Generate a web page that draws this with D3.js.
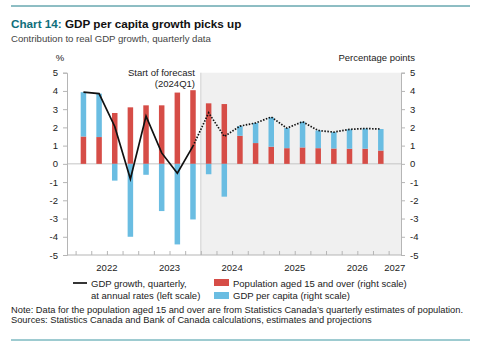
<!DOCTYPE html>
<html lang="en">
<head>
<meta charset="UTF-8">
<title>GDP per capita growth picks up</title>
<script src="https://d3js.org/d3.v7.min.js"></script>
<style>
    body { margin: 0; background: #fff; font-family: "Liberation Sans", Arial, sans-serif; }
    .tick text { font-size: 9.5px; fill: #222; }
</style>
</head>
<body>
<svg width="480" height="352"></svg>
<script>
// quarters 2022Q1 .. 2026Q4
const quarters = ["2022Q1","2022Q2","2022Q3","2022Q4","2023Q1","2023Q2","2023Q3","2023Q4",
    "2024Q1","2024Q2","2024Q3","2024Q4","2025Q1","2025Q2","2025Q3","2025Q4",
    "2026Q1","2026Q2","2026Q3","2026Q4"];
// GDP growth, quarterly at annual rates (left scale)
const gdpGrowth = [3.93, 3.85, 2.05, -0.83, 2.62, 0.6, -0.51, 0.97,
    2.8, 1.5, 2.07, 2.24, 2.57, 1.96, 2.31, 1.83, 1.74, 1.89, 1.94, 1.91];
// Population aged 15 and over (right scale)
const population = [1.5, 1.47, 2.79, 3.1, 3.21, 3.21, 3.91, 4.04,
    3.32, 3.28, 1.54, 1.14, 0.94, 0.86, 0.9, 0.86, 0.84, 0.83, 0.83, 0.73];
// GDP per capita (right scale)
const perCapita = [2.43, 2.38, -0.92, -4.0, -0.6, -2.59, -4.42, -3.05,
    -0.57, -1.8, 0.53, 1.1, 1.61, 1.1, 1.41, 0.97, 0.9, 1.06, 1.11, 1.18];
const yTicks = [-5, -4, -3, -2, -1, 0, 1, 2, 3, 4, 5];
const years = ["2022", "2023", "2024", "2025", "2026", "2027"];
const forecastStart = 8; // index of 2024Q1

const svg = d3.select("svg");
const teal = "#0f6f7c";
const red = "#d64d47";
const blue = "#6abde2";

// top and bottom rules
svg.append("line").attr("x1", 11).attr("x2", 470).attr("y1", 6).attr("y2", 6)
    .attr("stroke", "#1d7c88").attr("stroke-width", 1);
svg.append("line").attr("x1", 11).attr("x2", 470).attr("y1", 340).attr("y2", 340)
    .attr("stroke", "#3c97a2").attr("stroke-width", 1);

// title
const title = svg.append("text").attr("x", 11).attr("y", 27.5)
    .attr("font-size", "11.7px").attr("font-weight", "bold");
title.append("tspan").attr("fill", teal).text("Chart 14: ");
title.append("tspan").attr("fill", "#111").text("GDP per capita growth picks up");
svg.append("text").attr("x", 11).attr("y", 42).attr("font-size", "9.6px").attr("fill", "#444")
    .text("Contribution to real GDP growth, quarterly data");

// plot area
const plotL = 67, plotR = 401, plotT = 72.7, plotB = 255;
const x = d3.scaleLinear().domain([-1.05, 20.29]).range([plotL, plotR]);
const y = d3.scaleLinear().domain([-5, 5]).range([plotB, plotT]);

// forecast shading
svg.append("rect")
    .attr("x", x(forecastStart - 0.5)).attr("y", plotT)
    .attr("width", plotR - x(forecastStart - 0.5)).attr("height", plotB - plotT)
    .attr("fill", "#f0f0f0");
svg.append("line")
    .attr("x1", x(forecastStart - 0.5)).attr("x2", x(forecastStart - 0.5))
    .attr("y1", plotT).attr("y2", plotB).attr("stroke", "#cfcfcf");

// zero line
svg.append("line").attr("x1", plotL).attr("x2", plotR).attr("y1", y(0)).attr("y2", y(0))
    .attr("stroke", "#c4c4c4");

// axes (plain hyphen for negatives, as in the original)
const axisColor = "#b5b5b5";
const fmt = d => String(d);
const gL = svg.append("g").attr("transform", `translate(${plotL},0)`)
    .call(d3.axisLeft(y).tickValues(yTicks).tickSize(4).tickPadding(5).tickFormat(fmt));
const gR = svg.append("g").attr("transform", `translate(${plotR},0)`)
    .call(d3.axisRight(y).tickValues(yTicks).tickSize(4).tickPadding(5).tickFormat(fmt));
const qTicks = d3.range(-0.5, quarters.length + 0.5, 1);
const gB = svg.append("g").attr("transform", `translate(0,${plotB})`)
    .call(d3.axisBottom(x).tickValues(qTicks).tickSize(-4).tickFormat(""));
[gL, gR, gB].forEach(g => {
    g.select(".domain").attr("stroke", axisColor);
    g.selectAll(".tick line").attr("stroke", axisColor);
    g.selectAll(".tick text").attr("font-family", "Liberation Sans, Arial, sans-serif");
});
gB.select(".domain").attr("d", `M${plotL},0H${plotR}`);

// year labels, centred in each year
svg.append("g").selectAll("text").data(years).enter().append("text")
    .attr("x", (d, i) => i < 5 ? x(i * 4 + 1.5) : (x(19.5) + plotR) / 2)
    .attr("y", 271).attr("text-anchor", "middle").attr("font-size", "9.5px").attr("fill", "#222")
    .text(d => d);

// axis units
svg.append("text").attr("x", 60).attr("y", 61).attr("text-anchor", "middle")
    .attr("font-size", "9.5px").attr("fill", "#222").text("%");
svg.append("text").attr("x", 415).attr("y", 61).attr("text-anchor", "end")
    .attr("font-size", "9.5px").attr("fill", "#222").text("Percentage points");

// bars
const bw = 5.5;
const bars = svg.append("g");
quarters.forEach((q, i) => {
    const p = population[i], c = perCapita[i];
    bars.append("rect").attr("x", x(i) - bw / 2).attr("y", y(p)).attr("width", bw)
        .attr("height", y(0) - y(p)).attr("fill", red);
    if (c >= 0) {
        bars.append("rect").attr("x", x(i) - bw / 2).attr("y", y(p + c)).attr("width", bw)
            .attr("height", y(p) - y(p + c)).attr("fill", blue);
    } else {
        bars.append("rect").attr("x", x(i) - bw / 2).attr("y", y(0)).attr("width", bw)
            .attr("height", y(c) - y(0)).attr("fill", blue);
    }
});

// GDP growth line: solid history, dotted forecast
const line = d3.line().x(d => x(d[0])).y(d => y(d[1]));
const pts = gdpGrowth.map((v, i) => [i, v]);
svg.append("path").datum(pts.slice(0, forecastStart))
    .attr("d", line).attr("fill", "none").attr("stroke", "#111").attr("stroke-width", 1.7);
svg.append("path").datum(pts.slice(forecastStart - 1))
    .attr("d", line).attr("fill", "none").attr("stroke", "#111").attr("stroke-width", 1.7)
    .attr("stroke-dasharray", "1.5,1.5");

// forecast note
svg.append("text").attr("x", 195).attr("y", 76).attr("text-anchor", "end")
    .attr("font-size", "9.5px").attr("fill", "#222").text("Start of forecast");
svg.append("text").attr("x", 195).attr("y", 87).attr("text-anchor", "end")
    .attr("font-size", "9.5px").attr("fill", "#222").text("(2024Q1)");

// legend
const lg = svg.append("g").attr("font-size", "9.5px").attr("fill", "#222");
lg.append("line").attr("x1", 73).attr("x2", 87).attr("y1", 283).attr("y2", 283)
    .attr("stroke", "#111").attr("stroke-width", 1.7);
lg.append("text").attr("x", 91).attr("y", 286.5).text("GDP growth, quarterly,");
lg.append("text").attr("x", 91).attr("y", 299).text("at annual rates (left scale)");
lg.append("rect").attr("x", 214).attr("y", 279).attr("width", 15).attr("height", 7).attr("fill", red);
lg.append("text").attr("x", 233).attr("y", 286.5).text("Population aged 15 and over (right scale)");
lg.append("rect").attr("x", 214).attr("y", 292).attr("width", 15).attr("height", 7).attr("fill", blue);
lg.append("text").attr("x", 233).attr("y", 299).text("GDP per capita (right scale)");

// note and sources
svg.append("text").attr("x", 11).attr("y", 312.5).attr("font-size", "9.3px").attr("fill", "#222")
    .text("Note: Data for the population aged 15 and over are from Statistics Canada\u2019s quarterly estimates of population.");
svg.append("text").attr("x", 11).attr("y", 322.5).attr("font-size", "9.3px").attr("fill", "#222")
    .text("Sources: Statistics Canada and Bank of Canada calculations, estimates and projections");
</script>
</body>
</html>
